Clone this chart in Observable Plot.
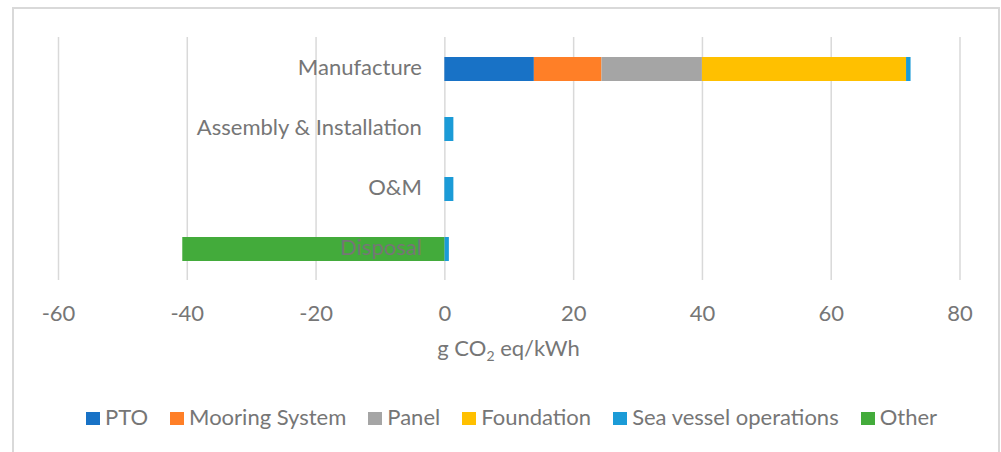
<!DOCTYPE html>
<html>
<head>
<meta charset="utf-8">
<script src="https://cdn.jsdelivr.net/npm/d3@7"></script>
<script src="https://cdn.jsdelivr.net/npm/@observablehq/plot@0.6"></script>
<style>
  html, body { margin: 0; padding: 0; background: #fff; overflow: hidden; width: 1001px; height: 452px; }
  body { position: relative; font-family: Lato, "Open Sans", sans-serif; color: #767676; }
  #frame { position: absolute; left: 12px; top: 7px; width: 984px; height: 470px; border: 2px solid #d9d9d9; box-sizing: content-box; }
  #chart { position: absolute; left: 0; top: 0; }
  #xtitle { position: absolute; left: 8px; top: 335px; width: 1001px; text-align: center; font-size: 22px; line-height: 26px; }
  #xtitle sub { font-size: 14px; vertical-align: -5px; line-height: 0; }
  #legend { position: absolute; left: 11px; top: 404px; width: 1001px; display: flex; justify-content: center; gap: 22px; font-size: 22px; line-height: 26px; }
  .item { display: flex; align-items: baseline; white-space: nowrap; }
  .sw { display: inline-block; width: 14px; height: 13px; margin-right: 5px; }
</style>
</head>
<body>
<div id="frame"></div>
<div id="chart"></div>
<div id="xtitle">g CO<sub>2</sub> eq/kWh</div>
<div id="legend"></div>
<script>
const categories = ["Manufacture", "Assembly & Installation", "O&M", "Disposal"];
const seriesNames = ["PTO", "Mooring System", "Panel", "Foundation", "Sea vessel operations", "Other"];
const seriesColors = ["#1872c6", "#ff7f27", "#a5a5a5", "#ffc000", "#1b9bd7", "#43ab3b"];
const pto = [13.9, 0, 0, 0];
const mooring = [10.5, 0, 0, 0];
const panel = [15.6, 0, 0, 0];
const foundation = [31.7, 0, 0, 0];
const seaVessel = [0.7, 1.4, 1.4, 0.7];
const other = [0, 0, 0, -40.7];
const xTicks = [-60, -40, -20, 0, 20, 40, 60, 80];

const seriesValues = [pto, mooring, panel, foundation, seaVessel, other];
const rows = [];
seriesNames.forEach((s, i) => {
  categories.forEach((c, j) => {
    if (seriesValues[i][j] !== 0) rows.push({category: c, series: s, value: seriesValues[i][j]});
  });
});

const chart = Plot.plot({
  width: 1001,
  height: 330,
  marginLeft: 58,
  marginRight: 41.5,
  marginTop: 37,
  marginBottom: 50,
  style: {fontFamily: "Lato, 'Open Sans', sans-serif", fontSize: "22px", color: "#767676", background: "transparent"},
  x: {domain: [-60, 80], ticks: xTicks},
  y: {domain: categories, paddingInner: 0.6, paddingOuter: 0.3, axis: null},
  color: {domain: seriesNames, range: seriesColors},
  marks: [
    Plot.gridX(xTicks, {stroke: "#d9d9d9", strokeOpacity: 1, strokeWidth: 1.5}),
    Plot.barX(rows, Plot.stackX({x: "value", y: "category", fill: "series", order: seriesNames})),
    Plot.axisX(xTicks, {tickSize: 0, tickPadding: 25, tickFormat: d => String(d), label: null, fill: "#767676", fontSize: 22}),
    Plot.text(categories, {x: d => 0, y: d => d, text: d => d, textAnchor: "end", dx: -23, dy: -2, fill: "#767676", fontSize: 22})
  ]
});
document.getElementById("chart").appendChild(chart);

const legend = document.getElementById("legend");
seriesNames.forEach((s, i) => {
  const item = document.createElement("div");
  item.className = "item";
  const sw = document.createElement("span");
  sw.className = "sw";
  sw.style.background = seriesColors[i];
  const t = document.createElement("span");
  t.textContent = s;
  item.appendChild(sw);
  item.appendChild(t);
  legend.appendChild(item);
});
</script>
</body>
</html>
